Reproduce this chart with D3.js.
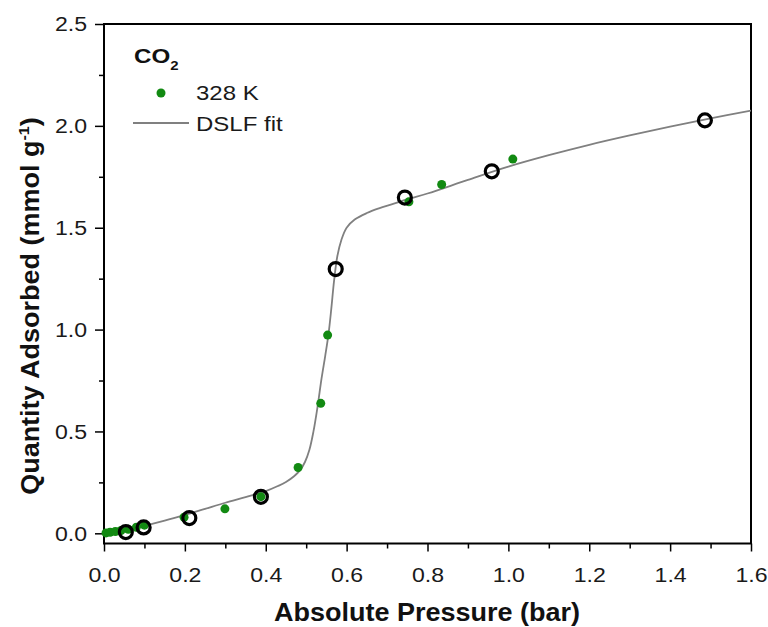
<!DOCTYPE html>
<html>
<head>
<meta charset="utf-8">
<script src="https://cdn.jsdelivr.net/npm/d3@7"></script>
<style>
  html, body { margin: 0; padding: 0; background: #fff; }
  svg { display: block; font-family: Arial, "Liberation Sans", sans-serif; }
</style>
</head>
<body>
<svg id="chart" width="768" height="627"></svg>
<script>
// ---- data ----
const xTicks = [0.0, 0.2, 0.4, 0.6, 0.8, 1.0, 1.2, 1.4, 1.6];
const yTicks = [0.0, 0.5, 1.0, 1.5, 2.0, 2.5];
const xMinorTicks = [0.1, 0.3, 0.5, 0.7, 0.9, 1.1, 1.3, 1.5];
const yMinorTicks = [0.25, 0.75, 1.25, 1.75, 2.25];

// 328 K measured points (green filled)
const greenP = [0.005, 0.015, 0.028, 0.042, 0.06, 0.08, 0.1, 0.198, 0.299, 0.388, 0.48, 0.536, 0.553, 0.754, 0.835, 1.011];
const greenQ = [0.002, 0.005, 0.009, 0.014, 0.02, 0.03, 0.04, 0.079, 0.12, 0.18, 0.323, 0.638, 0.973, 1.627, 1.712, 1.837];

// black open circles
const openP = [0.054, 0.098, 0.211, 0.388, 0.573, 0.744, 0.959, 1.486];
const openQ = [0.006, 0.029, 0.075, 0.179, 1.297, 1.648, 1.777, 2.027];

// DSLF fit curve
const fitP = [0.0, 0.05, 0.1, 0.15, 0.2, 0.25, 0.3, 0.35, 0.4, 0.43, 0.45, 0.47, 0.485, 0.497, 0.508, 0.518, 0.528, 0.538, 0.547, 0.555, 0.562, 0.569, 0.577, 0.587, 0.6, 0.62, 0.65, 0.68, 0.715, 0.75, 0.8, 0.9, 1.0, 1.1, 1.2, 1.3, 1.4, 1.5, 1.6];
const fitQ = [0.0, 0.015, 0.037, 0.062, 0.09, 0.12, 0.15, 0.178, 0.207, 0.232, 0.252, 0.28, 0.31, 0.35, 0.41, 0.5, 0.62, 0.76, 0.87, 0.975, 1.1, 1.24, 1.36, 1.44, 1.5, 1.54, 1.572, 1.595, 1.617, 1.64, 1.668, 1.735, 1.80, 1.856, 1.907, 1.953, 1.996, 2.037, 2.075];

// ---- layout ----
const svg = d3.select("#chart");
const L = 104, R = 751, T = 24, B = 543.5;
const x = d3.scaleLinear().domain([0, 1.6]).range([L, R]);
const y = d3.scaleLinear().domain([-0.05, 2.5]).range([B, T]);

const tickColor = "#1a1a1a";
const tickFont = 21, tickStretch = 1.1;
const legFont = 20, legStretch = 1.2;
const titleFont = 25, titleStretch = 1.08;
const green = "#128a12";

function stretchTicks(g, s) {
  g.selectAll(".tick text").each(function () {
    const t = d3.select(this);
    const xv = +t.attr("x") || 0;
    t.attr("x", xv / s).attr("transform", `scale(${s},1)`);
  });
}

// frame
svg.append("rect").attr("x", L).attr("y", T).attr("width", R - L).attr("height", B - T)
  .attr("fill", "none").attr("stroke", "#000").attr("stroke-width", 2);

// x axis
const xAxis = d3.axisBottom(x).tickValues(xTicks).tickSize(8).tickPadding(16).tickFormat(d3.format(".1f"));
const gx = svg.append("g").attr("transform", `translate(0,${B})`).call(xAxis);
gx.select(".domain").remove();
gx.selectAll(".tick line").attr("stroke", "#000").attr("stroke-width", 1.5);
gx.selectAll(".tick text").attr("font-size", tickFont).attr("fill", tickColor).attr("font-family", "Arial, 'Liberation Sans', sans-serif");
stretchTicks(gx, tickStretch);
const gxm = svg.append("g").attr("transform", `translate(0,${B})`)
  .call(d3.axisBottom(x).tickValues(xMinorTicks).tickSize(5).tickFormat(""));
gxm.select(".domain").remove();
gxm.selectAll(".tick line").attr("stroke", "#000").attr("stroke-width", 1.5);

// y axis
const yAxis = d3.axisLeft(y).tickValues(yTicks).tickSize(9).tickPadding(8).tickFormat(d3.format(".1f"));
const gy = svg.append("g").attr("transform", `translate(${L},0)`).call(yAxis);
gy.select(".domain").remove();
gy.selectAll(".tick line").attr("stroke", "#000").attr("stroke-width", 1.5);
gy.selectAll(".tick text").attr("font-size", tickFont).attr("fill", tickColor).attr("font-family", "Arial, 'Liberation Sans', sans-serif");
stretchTicks(gy, tickStretch);
const gym = svg.append("g").attr("transform", `translate(${L},0)`)
  .call(d3.axisLeft(y).tickValues(yMinorTicks).tickSize(5).tickFormat(""));
gym.select(".domain").remove();
gym.selectAll(".tick line").attr("stroke", "#000").attr("stroke-width", 1.5);

// clip
svg.append("clipPath").attr("id", "clip").append("rect")
  .attr("x", L).attr("y", T).attr("width", R - L).attr("height", B - T);

// fit line
const fitData = fitP.map((p, i) => [p, fitQ[i]]);
const line = d3.line().x(d => x(d[0])).y(d => y(d[1])).curve(d3.curveCatmullRom.alpha(0.5));
svg.append("path").datum(fitData).attr("d", line)
  .attr("fill", "none").attr("stroke", "#808080").attr("stroke-width", 1.8)
  .attr("clip-path", "url(#clip)");

// green points
const gData = greenP.map((p, i) => [p, greenQ[i]]);
svg.append("g").selectAll("circle").data(gData).join("circle")
  .attr("cx", d => x(d[0])).attr("cy", d => y(d[1])).attr("r", 4.5)
  .attr("fill", green);

// open circles
const oData = openP.map((p, i) => [p, openQ[i]]);
svg.append("g").selectAll("circle").data(oData).join("circle")
  .attr("cx", d => x(d[0])).attr("cy", d => y(d[1])).attr("r", 6.5)
  .attr("fill", "none").attr("stroke", "#000").attr("stroke-width", 3.2);

// legend
const lg = svg.append("g");
const co = lg.append("text").attr("transform", `translate(134,63) scale(1.15,1)`)
  .attr("font-size", 21).attr("font-weight", "bold").attr("fill", "#111");
co.append("tspan").text("CO");
co.append("tspan").attr("font-size", 13).attr("dy", 7).text("2");
lg.append("circle").attr("cx", 161).attr("cy", 93).attr("r", 4.5).attr("fill", green);
lg.append("text").attr("transform", `translate(196,100) scale(${legStretch},1)`)
  .attr("font-size", legFont).attr("fill", tickColor).text("328 K");
lg.append("line").attr("x1", 133).attr("x2", 189).attr("y1", 123).attr("y2", 123)
  .attr("stroke", "#808080").attr("stroke-width", 1.8);
lg.append("text").attr("transform", `translate(196,131) scale(${legStretch},1)`)
  .attr("font-size", legFont).attr("fill", tickColor).text("DSLF fit");

// axis titles
svg.append("text").attr("transform", `translate(427,621) scale(${titleStretch},1)`)
  .attr("text-anchor", "middle")
  .attr("font-size", titleFont).attr("font-weight", "bold").attr("fill", "#111")
  .text("Absolute Pressure (bar)");

const yt = svg.append("text").attr("transform", `translate(39,306) rotate(-90) scale(${titleStretch},1)`)
  .attr("text-anchor", "middle").attr("font-size", titleFont).attr("font-weight", "bold").attr("fill", "#111");
yt.append("tspan").text("Quantity Adsorbed (mmol g");
yt.append("tspan").attr("font-size", 15).attr("dy", -10).text("-1");
yt.append("tspan").attr("dy", 10).text(")");
</script>
</body>
</html>
